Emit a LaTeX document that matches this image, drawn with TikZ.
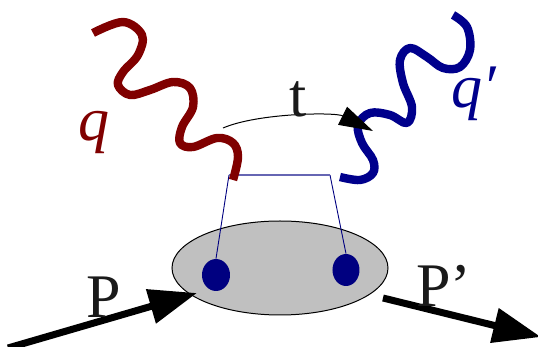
\documentclass[tikz,border=0pt]{standalone}
\usepackage{fontspec}
\setmainfont{Liberation Serif}
\usetikzlibrary{arrows.meta,shapes.geometric}
\definecolor{wred}{HTML}{800000}
\definecolor{wblue}{HTML}{00008C}
\definecolor{dotblue}{HTML}{000080}
\definecolor{blobgray}{HTML}{C0C0C0}
\definecolor{txt}{HTML}{1A1A1A}
\tikzset{
  photon/.style={line width=4.2pt, line cap=butt, line join=round},
  thinlink/.style={draw=dotblue, line width=0.45pt},
  dotnode/.style={ellipse, fill=dotblue, draw=none, inner sep=0pt},
  lbl/.style={font=\fontsize{31}{31}\selectfont, text=txt, inner sep=0pt},
  bigarrow/.style={line width=3.5pt, -{Triangle[length=24pt,width=17pt]}},
}
\begin{document}
\begin{tikzpicture}[x=0.5pt,y=-0.5pt]
\useasboundingbox (0,0) rectangle (538,347);
% target blob
\draw[fill=blobgray, draw=black, line width=0.5pt] (280,268) ellipse [x radius=108, y radius=47];
\node[dotnode, minimum width=14pt, minimum height=16pt] (dl) at (216,275) {};
\node[dotnode, minimum width=13.5pt, minimum height=16pt] (dr) at (346,270) {};
\coordinate (tl) at (229,175);
\coordinate (tr) at (330,175);
\draw[thinlink] (dl.north) -- (tl);
\draw[thinlink] (dr.north) -- (tr);
\draw[draw=dotblue!60, line width=0.6pt] (tl) -- (tr);
% incoming photon q
\draw[photon, wred] plot[smooth, tension=0.6] coordinates {(93,33) (123,22) (142,35) (138,55) (123,72) (118,85) (130,95) (150,90) (173,82) (190,88) (193,107) (182,127) (180,143) (193,147) (217,138) (233,143) (238,157) (233,180)};
% outgoing photon q'
\draw[photon, wblue] plot[smooth, tension=0.6] coordinates {(453,15) (467,27) (470,50) (460,67) (443,68) (427,57) (410,48) (400,60) (403,83) (412,107) (407,123) (390,115) (370,113) (358,125) (362,143) (373,160) (373,173) (360,180) (340,177)};
% t arc
\coordinate (ta) at (223,128);
\coordinate (tb) at (373,131);
\draw[line width=0.5pt, -{Triangle[length=17pt,width=10pt]}] (ta) .. controls (258,113) and (335,112) .. (tb);
% momenta arrows
\coordinate (pin) at (8,348);
\coordinate (pinend) at (197,293);
\draw[bigarrow] (pin) -- (pinend);
\coordinate (pout) at (383,298);
\coordinate (poutend) at (541,337);
\draw[bigarrow] (pout) -- (poutend);
% labels
\node[lbl, text=wred, anchor=base] (q) at (94,141) {\itshape q};
\node[lbl, text=wblue, anchor=base west] (qp) at (451,108) {\itshape q\char"2032};
\node[lbl, anchor=base] (t) at (298,117) {t};
\node[lbl, anchor=base] (P) at (104,318) {P};
\node[lbl, anchor=base west] (Pp) at (416,307) {P’};
\end{tikzpicture}
\end{document}
